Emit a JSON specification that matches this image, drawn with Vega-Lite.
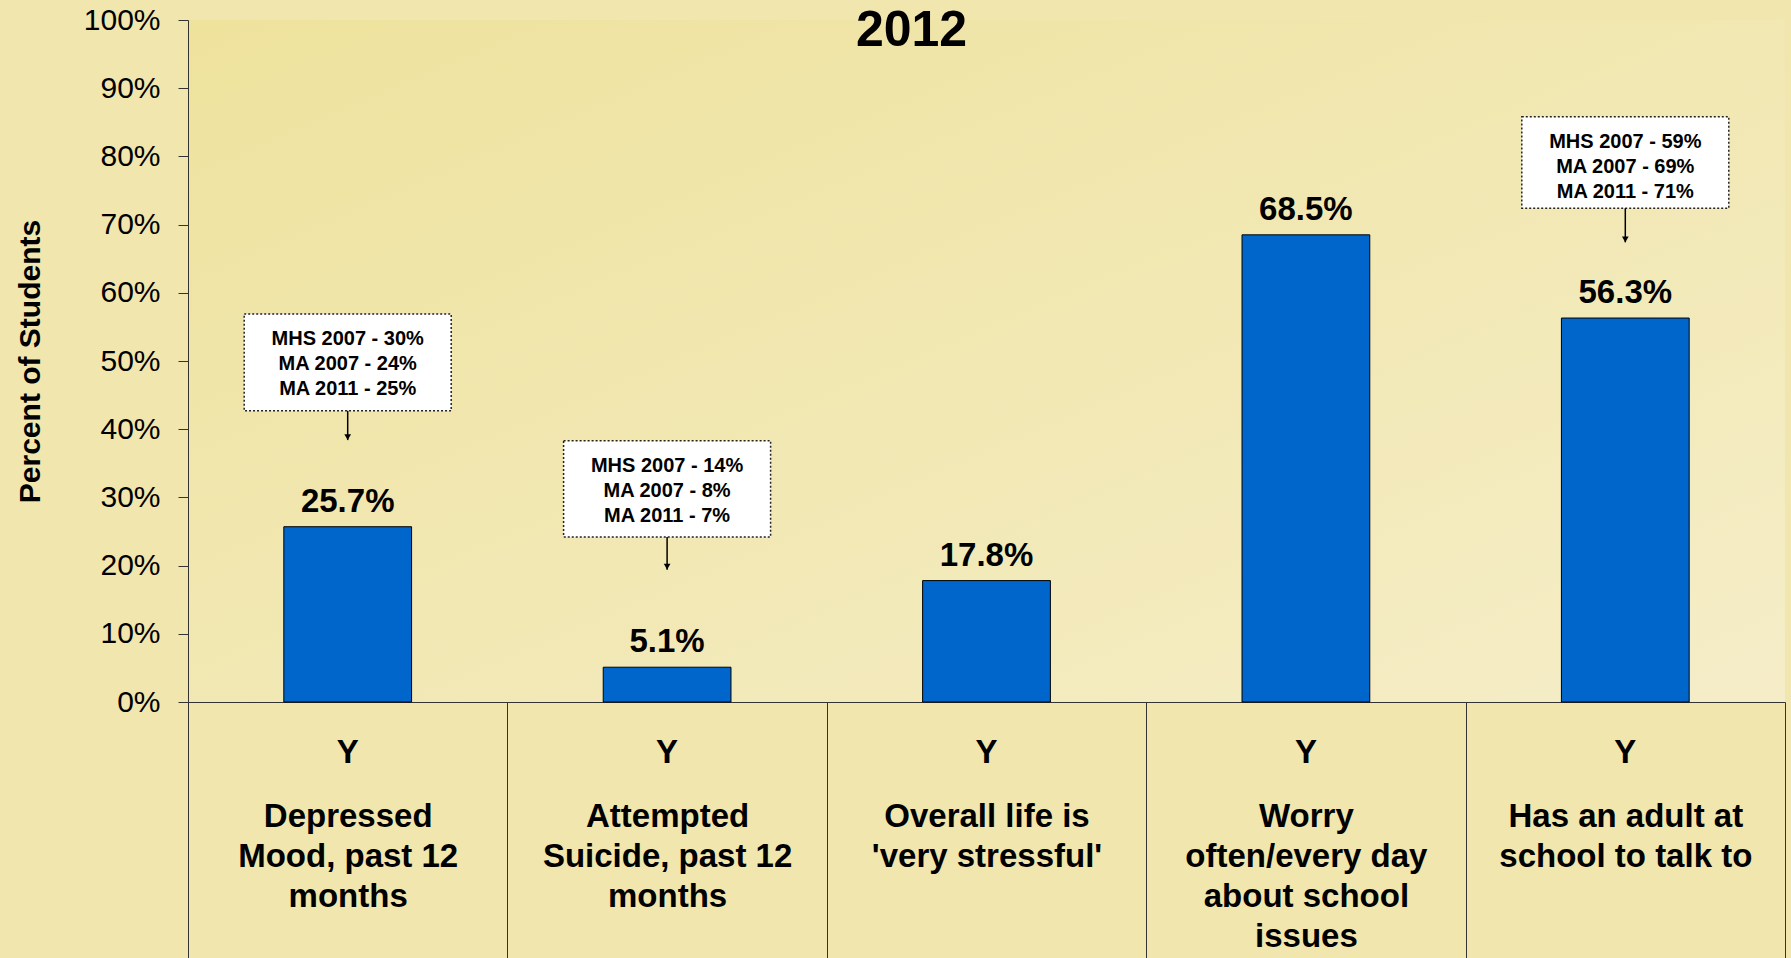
{
  "$schema": "https://vega.github.io/schema/vega-lite/v6.json",
  "autosize": "none",
  "width": 1597,
  "height": 682,
  "padding": {"left": 188, "top": 20, "right": 6, "bottom": 256},
  "background": "#F0E6AE",
  "title": {"text": "2012", "font": "Liberation Sans", "fontSize": 50, "fontWeight": "bold", "color": "black", "anchor": "middle", "frame": "group", "dx": -75, "offset": -91, "baseline": "alphabetic"},
  "config": {
    "font": "Liberation Sans",
    "view": {"stroke": null, "fill": {"gradient": "linear", "x1": 0, "y1": 0, "x2": 1, "y2": 1, "stops": [{"offset": 0, "color": "#EEE29D"}, {"offset": 1, "color": "#F5EDC8"}]}}
  },
  "datasets": {
    "bars": [
      {"item": "Depressed|Mood, past 12|months", "pct": 0.257},
      {"item": "Attempted|Suicide, past 12|months", "pct": 0.051},
      {"item": "Overall life is|'very stressful'", "pct": 0.178},
      {"item": "Worry|often/every day|about school|issues", "pct": 0.685},
      {"item": "Has an adult at|school to talk to", "pct": 0.563}
    ],
    "notes": [
      {"item": "Depressed|Mood, past 12|months", "note": ["MHS 2007 - 30%", "MA 2007 - 24%", "MA 2011 - 25%"], "top": 0.569, "bottom": 0.427, "tip": 0.384},
      {"item": "Attempted|Suicide, past 12|months", "note": ["MHS 2007 - 14%", "MA 2007 - 8%", "MA 2011 - 7%"], "top": 0.383, "bottom": 0.242, "tip": 0.194},
      {"item": "Has an adult at|school to talk to", "note": ["MHS 2007 - 59%", "MA 2007 -  69%", "MA 2011 - 71%"], "top": 0.858, "bottom": 0.724, "tip": 0.674}
    ]
  },
  "resolve": {"axis": {"x": "independent"}},
  "layer": [
    {
      "data": {"name": "bars"},
      "mark": {"type": "bar", "color": "#0066CC", "stroke": "black", "strokeWidth": 1, "width": {"band": 0.4}},
      "encoding": {
        "x": {
          "field": "item", "type": "nominal", "sort": null,
          "scale": {"domain": ["Depressed|Mood, past 12|months", "Attempted|Suicide, past 12|months", "Overall life is|'very stressful'", "Worry|often/every day|about school|issues", "Has an adult at|school to talk to"], "paddingInner": 0, "paddingOuter": 0},
          "axis": {
            "orient": "bottom", "title": null, "labelAngle": 0,
            "labelExpr": "split(datum.label, '|')",
            "labelFont": "Liberation Sans", "labelFontSize": 33, "labelFontWeight": "bold", "labelColor": "black",
            "labelLineHeight": 40, "labelBaseline": "top", "labelAlign": "center", "labelLimit": 0,
            "labelPadding": -158,
            "ticks": true, "tickBand": "extent", "tickSize": 256, "tickColor": "#333333", "tickWidth": 1,
            "domain": true, "domainColor": "#333333", "domainWidth": 1
          }
        },
        "y": {
          "field": "pct", "type": "quantitative", "title": "Percent of Students",
          "scale": {"domain": [0, 1], "nice": false},
          "axis": {
            "values": [0, 0.1, 0.2, 0.3, 0.4, 0.5, 0.6, 0.7, 0.8, 0.9, 1],
            "format": ".0%", "grid": false,
            "labelFont": "Liberation Sans", "labelFontSize": 30, "labelColor": "black", "labelPadding": 18,
            "tickSize": 10, "tickColor": "#333333", "domainColor": "#333333",
            "titleFont": "Liberation Sans", "titleFontSize": 30, "titleFontWeight": "bold", "titleColor": "black", "titlePadding": 38
          }
        }
      }
    },
    {
      "data": {"name": "bars"},
      "mark": {"type": "text", "font": "Liberation Sans", "fontSize": 33, "fontWeight": "bold", "color": "black", "baseline": "alphabetic", "dy": -15},
      "encoding": {
        "x": {
          "field": "item", "type": "nominal", "sort": null,
          "axis": {
            "orient": "bottom", "title": null, "labelAngle": 0, "labelExpr": "'Y'",
            "labelFont": "Liberation Sans", "labelFontSize": 33, "labelFontWeight": "bold", "labelColor": "black",
            "labelBaseline": "top", "labelAlign": "center", "labelPadding": 34,
            "ticks": false, "domain": false, "grid": false
          }
        },
        "y": {"field": "pct", "type": "quantitative", "title": "Percent of Students"},
        "text": {"field": "pct", "type": "quantitative", "format": ".1%"}
      }
    },
    {
      "data": {"name": "notes"},
      "mark": {"type": "bar", "width": 207, "fill": "white", "stroke": "#222222", "strokeDash": [2, 2], "strokeWidth": 1.5},
      "encoding": {
        "x": {"field": "item", "type": "nominal", "sort": null, "axis": null},
        "y": {"field": "top", "type": "quantitative", "title": "Percent of Students"},
        "y2": {"field": "bottom"}
      }
    },
    {
      "data": {"name": "notes"},
      "mark": {"type": "rule", "color": "black", "strokeWidth": 1.5},
      "encoding": {
        "x": {"field": "item", "type": "nominal", "sort": null, "axis": null},
        "y": {"field": "bottom", "type": "quantitative", "title": "Percent of Students"},
        "y2": {"field": "tip"}
      }
    },
    {
      "data": {"name": "notes"},
      "mark": {"type": "point", "shape": "triangle-down", "filled": true, "color": "black", "opacity": 1, "size": 45, "yOffset": -3},
      "encoding": {
        "x": {"field": "item", "type": "nominal", "sort": null, "axis": null},
        "y": {"field": "tip", "type": "quantitative", "title": "Percent of Students"}
      }
    },
    {
      "data": {"name": "notes"},
      "mark": {"type": "text", "font": "Liberation Sans", "fontSize": 20, "fontWeight": "bold", "color": "black", "lineHeight": 25, "baseline": "top", "align": "center", "dy": 15},
      "encoding": {
        "x": {"field": "item", "type": "nominal", "sort": null, "axis": null},
        "y": {"field": "top", "type": "quantitative", "title": "Percent of Students"},
        "text": {"field": "note", "type": "nominal"}
      }
    }
  ]
}
